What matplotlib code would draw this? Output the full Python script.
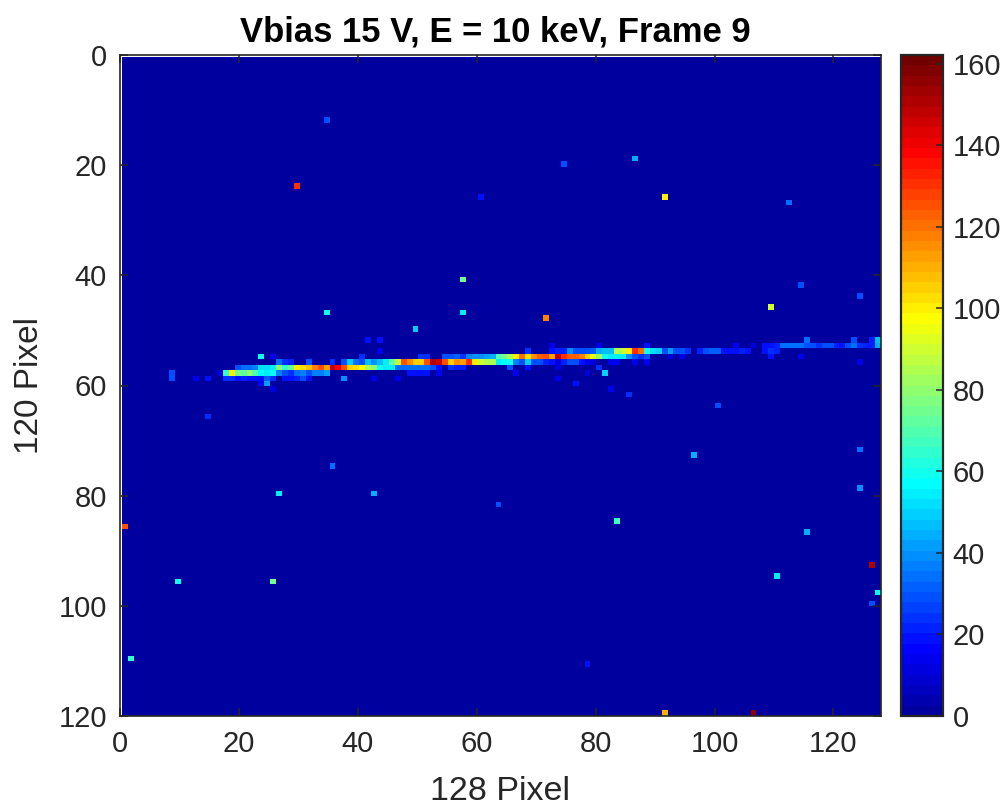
import numpy as np
import matplotlib
matplotlib.use("Agg")
import matplotlib.pyplot as plt
from matplotlib.colors import ListedColormap

plt.rcParams['font.family'] = ['Liberation Sans', 'DejaVu Sans']

TITLE = "Vbias 15 V, E = 10 keV, Frame 9"
XLABEL = "128 Pixel"
YLABEL = "120 Pixel"
N_COLS, N_ROWS = 128, 120
VMAX = 162.2
xticks = [0, 20, 40, 60, 80, 100, 120]
yticks = [0, 20, 40, 60, 80, 100, 120]
cticks = [0, 20, 40, 60, 80, 100, 120, 140, 160]

# isolated hits (0-based column, row, value)
hit_cols = [34, 29, 60, 74, 86, 91, 112, 114, 124, 109, 57, 34, 57, 71, 49, 14, 100, 96, 35, 26, 42, 63, 83,
            115, 0, 9, 25, 110, 126, 127, 126, 1, 78, 91, 106, 124, 124, 8, 8, 12, 85]
hit_rows = [11, 23, 25, 19, 18, 25, 26, 41, 43, 45, 40, 46, 46, 47, 49, 65, 63, 72, 74, 79, 79, 81, 84,
            86, 85, 95, 95, 94, 92, 97, 99, 109, 110, 119, 119, 71, 78, 57, 58, 58, 61]
hit_vals = [30, 130, 20, 30, 45, 100, 35, 30, 28, 90, 75, 60, 55, 118, 50, 25, 30, 45, 35, 55, 45, 28, 68,
            45, 125, 60, 75, 55, 150, 58, 28, 65, 20, 110, 155, 35, 40, 30, 28, 15, 25]

# track rows: {column: value}
row_51 = {41: 20, 43: 20, 115: 35, 123: 28, 126: 22, 127: 48}
row_52 = {72: 15, 80: 15, 88: 18, 103: 15, 106: 12, 108: 18, 109: 20, 110: 22, 111: 35, 112: 35, 113: 35,
          114: 35, 115: 28, 116: 30, 117: 25, 118: 28, 119: 28, 120: 22, 121: 20, 122: 28, 123: 35, 124: 25,
          125: 22, 126: 22, 127: 45}
row_53 = {43: 15, 68: 25, 72: 18, 73: 22, 74: 22, 75: 40, 76: 28, 77: 30, 78: 30, 79: 32, 80: 45, 81: 48,
          82: 48, 83: 85, 84: 88, 85: 100, 86: 130, 87: 120, 88: 60, 89: 52, 90: 50, 91: 30, 92: 42, 93: 30,
          94: 30, 95: 25, 97: 22, 98: 28, 99: 32, 100: 32, 101: 18, 102: 18, 103: 20, 104: 22, 105: 18,
          108: 20, 109: 25, 110: 22}
row_54 = {23: 60, 25: 15, 40: 25, 50: 25, 51: 25, 54: 30, 55: 30, 56: 32, 57: 25, 58: 38, 59: 40, 60: 40,
          61: 42, 62: 45, 63: 70, 64: 75, 65: 85, 66: 100, 67: 120, 68: 102, 69: 115, 70: 122, 71: 125,
          72: 112, 73: 148, 74: 130, 75: 122, 76: 122, 77: 118, 78: 105, 79: 92, 80: 82, 81: 60, 82: 55,
          83: 55, 84: 55, 85: 40, 86: 30, 87: 25, 88: 28, 92: 12, 94: 15, 109: 20, 114: 15}
row_55 = {26: 35, 27: 25, 28: 22, 31: 28, 35: 25, 37: 28, 38: 50, 39: 35, 40: 28, 41: 48, 42: 40, 43: 48,
          44: 55, 45: 72, 46: 88, 47: 125, 48: 115, 49: 105, 50: 105, 51: 125, 52: 150, 53: 145, 54: 125,
          55: 105, 56: 115, 57: 112, 58: 130, 59: 100, 60: 90, 61: 85, 62: 85, 63: 55, 64: 58, 65: 60,
          66: 38, 67: 28, 68: 50, 69: 30, 70: 28, 71: 22, 72: 20, 73: 12, 74: 22, 75: 30, 76: 28, 77: 18,
          78: 15, 79: 12, 82: 15, 83: 15, 86: 15, 88: 15, 124: 15}
row_56 = {19: 28, 20: 35, 21: 35, 22: 38, 23: 52, 24: 52, 25: 55, 26: 80, 27: 65, 28: 75, 29: 100, 30: 102,
          31: 108, 32: 118, 33: 125, 34: 112, 35: 148, 36: 138, 37: 125, 38: 105, 39: 102, 40: 98, 41: 85,
          42: 80, 43: 60, 44: 55, 45: 55, 46: 35, 47: 35, 48: 35, 49: 35, 50: 35, 51: 35, 52: 30, 53: 20,
          55: 25, 56: 22, 57: 22, 65: 28, 68: 18, 73: 12, 80: 25}
row_57 = {16: 12, 17: 65, 18: 100, 19: 75, 20: 72, 21: 80, 22: 70, 23: 58, 24: 55, 25: 58, 26: 38, 27: 28,
          28: 25, 29: 35, 30: 38, 31: 30, 32: 38, 33: 38, 34: 42, 48: 20, 49: 20, 50: 20, 51: 20, 53: 15,
          66: 15, 78: 12, 81: 50}
row_58 = {14: 18, 17: 25, 18: 25, 19: 20, 20: 22, 21: 20, 22: 20, 23: 18, 24: 32, 25: 25, 27: 18, 28: 18,
          29: 22, 30: 28, 31: 20, 37: 40, 42: 15, 46: 15, 73: 15}
row_59 = {23: 15, 24: 42, 76: 18}
row_60 = {25: 12, 82: 15}
track_rows = {51: row_51, 52: row_52, 53: row_53, 54: row_54, 55: row_55, 56: row_56, 57: row_57,
              58: row_58, 59: row_59, 60: row_60}

frame = np.zeros((N_ROWS, N_COLS))
for c, r, v in zip(hit_cols, hit_rows, hit_vals):
    frame[r, c] = v
for r, cells in track_rows.items():
    for c, v in cells.items():
        frame[r, c] = v


def matlab_jet(m=64):
    n = int(np.ceil(m / 4))
    u = np.r_[np.arange(1, n + 1) / n, np.ones(n - 1), np.arange(n, 0, -1) / n]
    g0 = int(np.ceil(n / 2)) - (1 if m % 4 == 1 else 0)
    gi = g0 + np.arange(len(u))
    ri = gi + n
    bi = gi - n
    rgb = np.zeros((m, 3))
    rgb[ri[ri <= m] - 1, 0] = u[ri <= m]
    rgb[gi[gi <= m] - 1, 1] = u[gi <= m]
    rgb[bi[bi >= 1] - 1, 2] = u[bi >= 1]
    return ListedColormap(rgb)


W, H = 1003, 808
INK = '#262626'
fig = plt.figure(figsize=(W / 100, H / 100), dpi=100, facecolor='white')
ax = fig.add_axes([120 / W, 1 - 716 / H, (881 - 120) / W, (716 - 55) / H])
cmap = matlab_jet(64)
# the image starts a little inside the axes box, as in the source
x0, y0 = 2 / 5.945, 2 / 5.508
im = ax.imshow(frame, cmap=cmap, vmin=0, vmax=VMAX, extent=(x0, N_COLS, N_ROWS, y0),
               interpolation='nearest', aspect='auto', zorder=1)
ax.set_xlim(0, N_COLS)
ax.set_ylim(N_ROWS, 0)
ax.set_xticks(xticks)
ax.set_yticks(yticks)
ax.tick_params(direction='in', length=5.8, width=1.1, colors=INK, labelsize=21, top=True, right=True)
ax.tick_params(axis='x', pad=10)
ax.tick_params(axis='y', pad=9.4)
for s in ax.spines.values():
    s.set_linewidth(1.2)
    s.set_color(INK)
    s.set_zorder(5)
ax.set_axisbelow(False)
ax.set_title(TITLE, fontsize=24.9, fontweight='bold', color='black', pad=9.5, x=0.493)
ax.set_xlabel(XLABEL, fontsize=24.5, color=INK, va='center')
ax.xaxis.set_label_coords(0.5, (716 - 792) / 661)
ax.set_ylabel(YLABEL, fontsize=24, color=INK, va='center')
ax.yaxis.set_label_coords((29 - 120) / 761, 0.5)

cax = fig.add_axes([901 / W, 1 - 716 / H, (943 - 901) / W, (716 - 55) / H])
cb = fig.colorbar(im, cax=cax, ticks=cticks)
cb.ax.tick_params(direction='in', length=5, width=1.1, colors=INK, labelsize=21, pad=7)
cb.outline.set_linewidth(1.6)
cb.outline.set_edgecolor(INK)

fig.savefig('out.png', dpi=100)
